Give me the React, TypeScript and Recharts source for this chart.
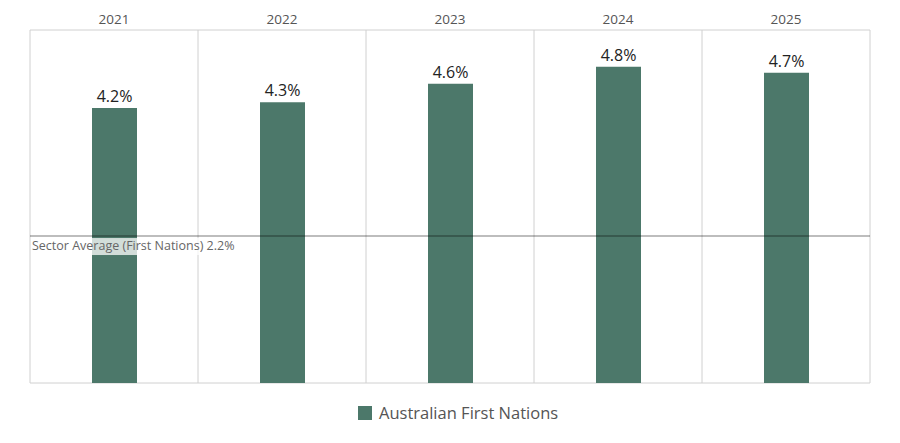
import { BarChart, Bar, XAxis, YAxis, CartesianGrid, ReferenceLine, LabelList } from 'recharts';

const years = ['2021', '2022', '2023', '2024', '2025'];
const firstNations = [4.19, 4.28, 4.56, 4.82, 4.73];
const sectorAverage = 2.24;
const yMax = 5.38;
const seriesName = 'Australian First Nations';

const data = years.map((year, i) => ({ year, value: firstNations[i] }));

const FONT = '"Open Sans", "Noto Sans", sans-serif';
const GREEN = '#4c786a';

function RefLabel(props: any) {
  const { viewBox } = props;
  const x = viewBox.x;
  const y = viewBox.y;
  const text = `Sector Average (First Nations) ${sectorAverage.toFixed(1)}%`;
  return (
    <g>
      <rect x={x + 1} y={y + 2} width={206} height={17} fill="#ffffff" fillOpacity={0.75} />
      <text x={x + 2} y={y + 14} fontSize={12.5} fontFamily={FONT} fill="#666">
        {text}
      </text>
    </g>
  );
}

export default function App() {
  return (
    <div style={{ position: 'absolute', left: 0, top: 0, width: 900, height: 443 }}>
      <BarChart width={900} height={443} data={data} margin={{ top: 0, right: 30, bottom: 60, left: 30 }}>
        <CartesianGrid
          stroke="#d0d0d0"
          verticalCoordinatesGenerator={({ offset }: any) =>
            years.map((_, i) => offset.left + (i * offset.width) / years.length).concat(offset.left + offset.width)
          }
          horizontalCoordinatesGenerator={({ offset }: any) => [offset.top, offset.top + offset.height]}
        />
        <XAxis
          dataKey="year"
          orientation="top"
          height={30}
          axisLine={false}
          tickLine={false}
          tick={{ fontSize: 13.5, fill: '#555', fontFamily: FONT }}
          tickMargin={0}
        />
        <YAxis hide domain={[0, yMax]} />
        <Bar dataKey="value" fill={GREEN} barSize={45} isAnimationActive={false}>
          <LabelList
            dataKey="value"
            position="top"
            offset={6}
            formatter={(v: any) => `${Number(v).toFixed(1)}%`}
            style={{ fontSize: 16, fill: '#222', fontFamily: FONT }}
          />
        </Bar>
        <ReferenceLine
          y={sectorAverage}
          stroke="#000"
          strokeOpacity={0.35}
          strokeWidth={1.5}
          label={<RefLabel />}
        />
      </BarChart>
      <div
        style={{
          position: 'absolute',
          top: 403,
          left: 358,
          display: 'flex',
          alignItems: 'center',
          fontFamily: FONT,
        }}
      >
        <span style={{ width: 14, height: 14, background: GREEN, display: 'inline-block', marginRight: 7 }} />
        <span style={{ fontSize: 16.5, color: '#555', lineHeight: '20px' }}>{seriesName}</span>
      </div>
    </div>
  );
}
